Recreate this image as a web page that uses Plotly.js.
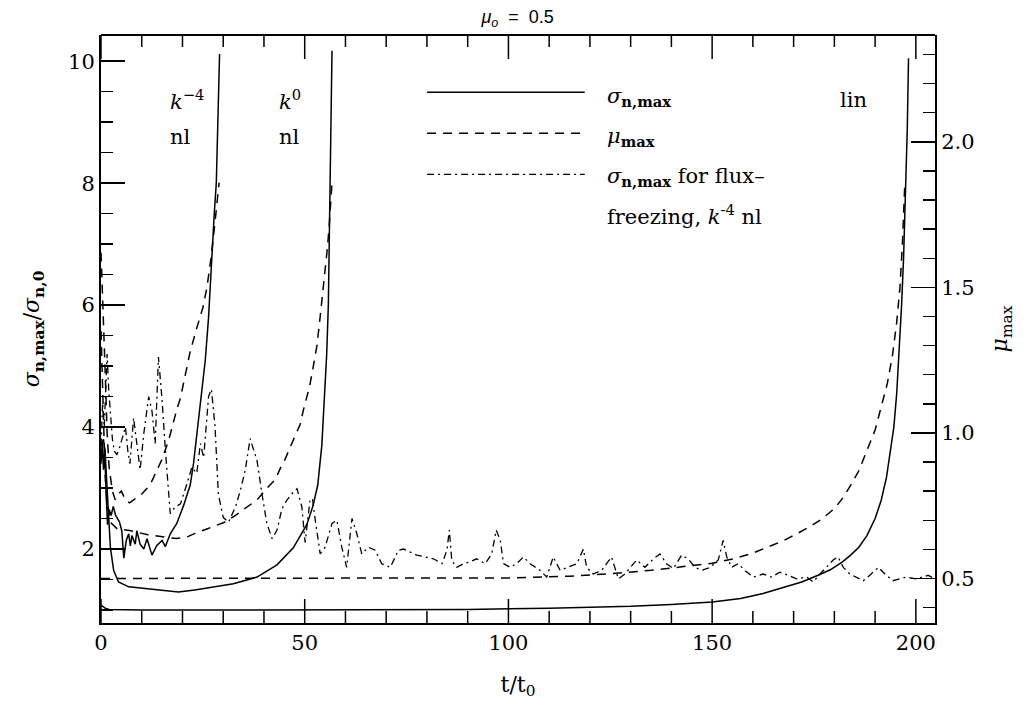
<!DOCTYPE html>
<html>
<head>
<meta charset="utf-8">
<script src="https://cdn.plot.ly/plotly-3.0.1.min.js"></script>
<style>
  html, body { margin: 0; padding: 0; background: #fff; }
  #chart { width: 1027px; height: 704px; }
</style>
</head>
<body>
<div id="chart"></div>
<script>
// ---- data (mu_0 = 0.5) ----
// linear perturbation: sigma_n,max / sigma_n,0 (left axis)
const tLinSig = [0, 1, 2, 10, 30, 60, 90, 110, 120, 130, 140, 150, 157, 162.5, 167, 172, 176, 179, 182, 184, 186, 188, 190, 191.5, 192.8, 193.8, 194.6, 195.3, 195.9, 196.5, 197, 197.5, 197.9, 198.2];
const sigLin  = [1.08, 1.03, 1.01, 1.0, 1.0, 1.0, 1.01, 1.03, 1.04, 1.06, 1.09, 1.13, 1.19, 1.27, 1.36, 1.46, 1.57, 1.66, 1.79, 1.9, 2.03, 2.22, 2.5, 2.8, 3.18, 3.6, 4.0, 4.55, 5.2, 6.0, 6.8, 7.8, 8.9, 10.05];

// k^-4 nonlinear: sigma_n,max / sigma_n,0 (left axis)
const tKm4Sig = [0, 0.3, 0.6, 0.9, 1.2, 1.6, 2.0, 2.5, 3.0, 3.6, 4.5, 5.1, 5.6, 6.2, 6.8, 7.2, 7.6, 8.4, 8.8, 9.6, 10.5, 11.3, 12.5, 13.7, 15, 15.8, 17, 18.6, 20.3, 21.9, 22.7, 23.9, 24.8, 25.6, 26.4, 27.2, 27.8, 28.3, 28.7, 29.1];
const sigKm4  = [3.4, 3.75, 3.3, 3.65, 3.0, 2.4, 2.65, 2.55, 2.7, 2.55, 2.45, 2.3, 1.85, 2.14, 2.25, 2.05, 2.22, 2.08, 2.3, 2.08, 2.0, 2.17, 1.9, 2.06, 2.14, 2.04, 2.25, 2.42, 2.72, 3.05, 3.4, 4.1, 4.6, 5.1, 5.8, 6.84, 7.5, 8.0, 9.0, 10.12];

// k^0 nonlinear: sigma_n,max / sigma_n,0 (left axis)
const tK0Sig = [0, 0.6, 1.0, 1.7, 2.3, 3.1, 4.3, 6.8, 10.9, 15, 19, 23, 27, 32.5, 38.3, 43.2, 47.2, 50.5, 52, 53.2, 54.2, 54.9, 55.4, 55.8, 56.1, 56.4, 56.7];
const sigK0  = [3.7, 3.8, 3.6, 2.85, 2.03, 1.65, 1.46, 1.38, 1.35, 1.32, 1.295, 1.33, 1.37, 1.43, 1.54, 1.74, 2.02, 2.4, 2.7, 3.05, 3.7, 4.5, 5.2, 6.0, 7.3, 8.7, 10.17];

// linear perturbation: mu_max (right axis)
const tLinMu = [0, 60, 100, 115, 125, 135, 143, 150, 155, 160, 164, 167.5, 171, 174, 177, 180, 182, 184, 186, 188, 190, 191.5, 193, 194.3, 195.3, 196.1, 196.7, 197.3];
const muLin  = [0.5, 0.5, 0.502, 0.508, 0.516, 0.528, 0.54, 0.552, 0.567, 0.587, 0.61, 0.63, 0.655, 0.678, 0.705, 0.74, 0.775, 0.82, 0.87, 0.94, 1.01, 1.09, 1.17, 1.27, 1.38, 1.5, 1.65, 1.86];

// k^-4 nonlinear: mu_max (right axis)
const tKm4Mu = [0, 0.5, 1.0, 1.5, 2.0, 2.8, 3.5, 4.3, 5.0, 6.0, 7.0, 8.0, 10.0, 12.0, 13.7, 15.0, 16.6, 17.4, 18.6, 19.5, 21.1, 21.9, 23.5, 25.0, 26.0, 27.0, 27.8, 28.5, 29.0];
const muKm4  = [1.62, 1.45, 1.22, 1.0, 0.88, 0.8, 0.77, 0.79, 0.8, 0.77, 0.76, 0.77, 0.79, 0.82, 0.87, 0.91, 0.975, 1.02, 1.08, 1.12, 1.23, 1.28, 1.36, 1.43, 1.5, 1.6, 1.7, 1.8, 1.86];

// k^0 nonlinear: mu_max (right axis)
const tK0Mu = [0, 0.5, 1.0, 1.5, 2.5, 4, 7, 11.5, 14, 17, 18.5, 21, 23.1, 26, 28, 30.5, 33, 35.4, 38.3, 40.7, 42.8, 44, 45.2, 46.4, 47.7, 48.9, 49.7, 50.5, 51.2, 52, 53, 53.8, 54.6, 55.1, 55.6, 56.0, 56.4, 56.7];
const muK0  = [1.35, 1.05, 0.86, 0.75, 0.69, 0.67, 0.665, 0.65, 0.645, 0.64, 0.637, 0.642, 0.655, 0.67, 0.68, 0.694, 0.717, 0.74, 0.77, 0.81, 0.84, 0.878, 0.91, 0.95, 0.99, 1.03, 1.08, 1.12, 1.16, 1.22, 1.3, 1.4, 1.5, 1.56, 1.64, 1.71, 1.79, 1.86];

// flux-freezing, k^-4 nl: sigma_n,max / sigma_n,0 (left axis)
const tFF = [0, 0.4, 0.8, 1.2, 1.5, 1.9, 2.3, 2.8, 3.3, 3.9, 4.5, 5.2, 6.0, 6.6, 7.1, 8.0, 8.8, 9.6, 10.5, 11.7, 12.5, 13.3, 14.1, 15.0, 15.8, 17.0, 18.2, 19.5, 21.1, 22.3, 23.5, 24.4, 25.2, 25.6, 26.4, 27.1, 28.0, 28.8, 30.0, 31.3, 33.0, 34.2, 35.4, 36.6, 38.3, 39.5, 40.7, 42.0, 43.2, 44.4, 45.6, 46.9, 48.1, 49.3, 50.1, 51.3, 51.9, 52.6, 53.8, 55.0, 56.7, 57.9, 59.1, 60.3, 61.6, 62.8, 64.0, 65.6, 67.3, 68.9, 71.0, 73.0, 74.2, 75.9, 77.5, 79.6, 81.6, 83.7, 84.9, 85.5, 86.1, 87.3, 89.0, 90.6, 92.2, 94.3, 95.9, 97.0, 98.0, 98.8, 100.4, 102.0, 103.7, 105.3, 107.8, 109.4, 111.0, 112.7, 114.5, 116.8, 118.4, 119.2, 120.8, 122.9, 124.1, 125.3, 127.0, 128.6, 130.7, 131.5, 133.5, 135.6, 137.2, 138.8, 140.5, 142.5, 144.1, 145.8, 147.4, 149.5, 151.5, 152.7, 153.6, 154.8, 156.4, 158.0, 160.1, 162.5, 164.6, 166.6, 168.7, 170.7, 173.2, 174.8, 176.5, 178.1, 179.7, 180.9, 182.2, 183.8, 185.5, 187.1, 188.7, 190.8, 192.4, 194.4, 196.0, 197.7, 200.2, 203.0, 204.7];
const sigFF = [3.7, 4.4, 4.0, 4.9, 5.2, 4.6, 4.2, 3.8, 3.6, 3.55, 3.65, 3.8, 4.0, 3.6, 3.4, 4.15, 3.67, 3.3, 3.89, 4.5, 4.27, 3.73, 5.15, 4.44, 3.62, 2.58, 2.69, 2.74, 3.07, 3.34, 3.24, 3.73, 3.5, 3.86, 4.5, 4.62, 4.0, 2.9, 2.52, 2.44, 2.69, 2.96, 3.29, 3.81, 3.45, 2.91, 2.42, 2.17, 2.31, 2.66, 2.8, 2.91, 2.99, 2.69, 2.11, 2.8, 2.83, 2.47, 1.92, 2.03, 2.42, 2.47, 2.03, 1.7, 2.5, 2.25, 1.92, 2.03, 1.98, 1.76, 1.7, 1.98, 2.0, 1.95, 1.9, 1.87, 1.84, 1.76, 1.98, 2.31, 1.81, 1.7, 1.76, 1.79, 1.84, 1.76, 1.92, 2.31, 2.14, 1.76, 1.7, 1.76, 1.87, 1.76, 1.65, 1.54, 1.87, 1.65, 1.7, 1.76, 2.0, 1.7, 1.59, 1.65, 1.76, 1.87, 1.51, 1.59, 1.76, 1.82, 1.7, 1.84, 1.92, 1.76, 1.68, 1.9, 1.84, 1.7, 1.65, 1.7, 1.82, 2.14, 1.87, 1.7, 1.76, 1.65, 1.54, 1.59, 1.54, 1.62, 1.57, 1.51, 1.54, 1.46, 1.59, 1.7, 1.82, 1.87, 1.7, 1.59, 1.54, 1.48, 1.57, 1.7, 1.59, 1.48, 1.51, 1.54, 1.51, 1.57, 1.51];

// x-axis tick positions (drawn at bottom and top of the frame)
const xMajorTicks = [0, 50, 100, 150, 200];
const xMinorTicks = [10, 20, 30, 40, 60, 70, 80, 90, 110, 120, 130, 140, 160, 170, 180, 190];

// text
const titleText = '<i>μ<sub>o</sub></i>  =  0.5';
const xTitle = 't/t<sub>0</sub>';
const yTitle = '<i>σ</i><sub><b>n,max</b></sub>/<i>σ</i><sub><b>n,0</b></sub>';
const y2Title = '<i>μ</i><sub>max</sub>';
const legendLabels = ['<i>σ</i><sub><b>n,max</b></sub>', '<i>μ</i><sub><b>max</b></sub>', '<i>σ</i><sub><b>n,max</b></sub> for flux–', 'freezing, <i>k</i><sup>-4</sup> nl'];
const curveLabels = [
  {t: 16.5, v: 9.36, text: '<i>k</i><sup>−4</sup>'},
  {t: 16.5, v: 8.75, text: 'nl'},
  {t: 43.3, v: 9.36, text: '<i>k</i><sup>0</sup>'},
  {t: 43.3, v: 8.75, text: 'nl'},
  {t: 180.9, v: 9.36, text: 'lin'}
];

const SERIF = 'DejaVu Serif';
function serif(size) { return {family: SERIF, size: size, color: '#000'}; }
function minor(d) { return {dtick: d, ticklen: 12, tickwidth: 1.5, tickcolor: '#000', ticks: 'inside'}; }
function yAxisBase() {
  return {ticks: 'inside', ticklen: 24, tickwidth: 1.5, tickcolor: '#000', showline: true, linecolor: '#000', linewidth: 2, showgrid: false, zeroline: false, tickfont: serif(21)};
}
function lineStyle(kind) {
  if (kind === 'dash') return {color: '#000', width: 1.5, dash: '9px,7px'};
  if (kind === 'dashdot') return {color: '#000', width: 1.3, dash: '7px,4px,2px,4px'};
  return {color: '#000', width: 1.5, dash: 'solid'};
}
function tr(x, y, kind, axis, name) {
  return {x: x, y: y, type: 'scatter', mode: 'lines', line: lineStyle(kind), yaxis: axis, name: name, showlegend: false, hoverinfo: 'skip'};
}

const traces = [
  tr(tLinSig, sigLin, 'solid', 'y', 'sigma lin'),
  tr(tKm4Sig, sigKm4, 'solid', 'y', 'sigma k-4'),
  tr(tK0Sig, sigK0, 'solid', 'y', 'sigma k0'),
  tr(tFF, sigFF, 'dashdot', 'y', 'sigma flux-freezing'),
  tr(tLinMu, muLin, 'dash', 'y2', 'mu lin'),
  tr(tKm4Mu, muKm4, 'dash', 'y2', 'mu k-4'),
  tr(tK0Mu, muK0, 'dash', 'y2', 'mu k0')
];

// plot area is 588 px tall: tick lengths in paper units
const PLOT_H = 704 - 35 - 81;
const majLen = 24 / PLOT_H, minLen = 12 / PLOT_H;
function xTick(v, len, top) {
  return {type: 'line', xref: 'x', yref: 'paper', x0: v, x1: v, y0: top ? 1 - len : 0, y1: top ? 1 : len, line: {color: '#000', width: 1.5}};
}

// legend keys (paper coordinates), frame top line, x ticks
const legY = [0.9026, 0.8328, 0.7631];
const legKind = ['solid', 'dash', 'dashdot'];
const shapes = legY.map((yy, i) => ({type: 'line', xref: 'paper', yref: 'paper', x0: 0.391, x1: 0.580, y0: yy, y1: yy, line: lineStyle(legKind[i])}));
shapes.push({type: 'line', xref: 'paper', yref: 'paper', x0: 0, x1: 1, y0: 1, y1: 1, line: {color: '#000', width: 2}});
xMajorTicks.forEach(v => { shapes.push(xTick(v, majLen, false)); shapes.push(xTick(v, majLen, true)); });
xMinorTicks.forEach(v => { shapes.push(xTick(v, minLen, false)); shapes.push(xTick(v, minLen, true)); });

const legTextY = [0.894, 0.826, 0.758, 0.694];
const annotations = legendLabels.map((txt, i) => ({xref: 'paper', yref: 'paper', x: 0.6043, y: legTextY[i], xanchor: 'left', yanchor: 'middle', text: txt, showarrow: false, font: serif(21)}))
  .concat(curveLabels.map(c => ({xref: 'x', yref: 'y', x: c.t, y: c.v, xanchor: 'left', yanchor: 'middle', text: c.text, showarrow: false, font: serif(21)})));

const xaxis = {range: [0, 204.7], tickvals: xMajorTicks, ticks: '', showline: true, linecolor: '#000', linewidth: 2, showgrid: false, zeroline: false, tickfont: serif(21),
  title: {text: xTitle, font: serif(22), standoff: 22}};
const yaxis = yAxisBase();
Object.assign(yaxis, {range: [0.787, 10.43], tick0: 0, dtick: 2, minor: minor(0.5), title: {text: yTitle, font: serif(22), standoff: 22}});
const yaxis2 = yAxisBase();
Object.assign(yaxis2, {overlaying: 'y', side: 'right', range: [0.347, 2.367], tick0: 0, dtick: 0.5, tickformat: '.1f', minor: minor(0.1), title: {text: y2Title, font: serif(22), standoff: 18}});

const layout = {
  width: 1027, height: 704,
  margin: {l: 101, r: 92, t: 35, b: 81, pad: 0},
  paper_bgcolor: '#fff', plot_bgcolor: '#fff',
  showlegend: false,
  font: serif(21),
  title: {text: titleText, x: 0.504, xanchor: 'center', y: 0.976, yanchor: 'middle', font: {family: 'Liberation Sans', size: 18, color: '#000'}},
  xaxis: xaxis, yaxis: yaxis, yaxis2: yaxis2,
  shapes: shapes,
  annotations: annotations
};

Plotly.newPlot('chart', traces, layout, {staticPlot: true, displayModeBar: false});
</script>
</body>
</html>
